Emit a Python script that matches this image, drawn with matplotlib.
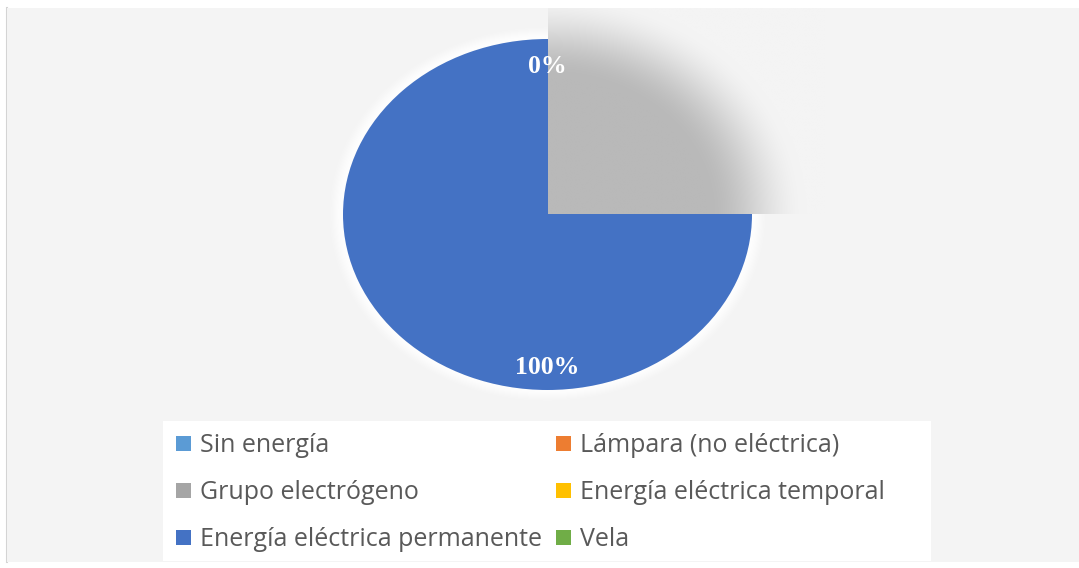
import numpy as np
import matplotlib
matplotlib.use("Agg")
import matplotlib.pyplot as plt
from matplotlib.patches import Rectangle
from matplotlib.lines import Line2D
from matplotlib.font_manager import FontProperties
from matplotlib.colors import to_rgb

# --- data -------------------------------------------------------------
categories = [
    "Sin energía",
    "Lámpara (no eléctrica)",
    "Grupo electrógeno",
    "Energía eléctrica temporal",
    "Energía eléctrica permanente",
    "Vela",
]
shares = [0, 0, 0, 0, 100, 0]
colors = ["#5B9BD5", "#ED7D31", "#A5A5A5", "#FFC000", "#4472C4", "#70AD47"]

# --- figure / canvas ----------------------------------------------------
W, H = 1079, 568
fig = plt.figure(figsize=(W / 100, H / 100), dpi=100, facecolor="white")

panel_bg = "#f4f4f4"
panel_top = 8
fig.patches.append(Rectangle((7 / W, (H - 562) / H), (W - 7) / W, (562 - panel_top) / H,
                             transform=fig.transFigure, facecolor=panel_bg,
                             edgecolor="none", zorder=-2))
fig.lines.append(Line2D([6.5 / W, 6.5 / W], [(H - 562) / H, (H - panel_top) / H],
                        transform=fig.transFigure, color="#d4d4d4", lw=1.5,
                        zorder=-2))
# white legend panel
fig.patches.append(Rectangle((163 / W, (H - 561) / H), (931 - 163) / W, (561 - 421) / H,
                             transform=fig.transFigure, facecolor="white",
                             edgecolor="none", zorder=-1))

# pie axes: unit circle mapped onto a 409 x 351 px ellipse
cx, cy, rx, ry = 547.5, 214.5, 204.5, 175.5
S = 1.35
ax = fig.add_axes([(cx - rx * S) / W, 1 - (cy + ry * S) / H,
                   2 * rx * S / W, 2 * ry * S / H])
ax.set_zorder(1)

wedges, texts, autotexts = ax.pie(
    shares, colors=colors, startangle=90, counterclock=False, radius=1,
    autopct="%.0f%%", pctdistance=0.86,
    wedgeprops=dict(linewidth=0),
    textprops=dict(color="white", fontsize=18.5, fontweight="bold",
                   family="Liberation Serif", va="center_baseline"),
)
ax.set_aspect("auto")
ax.axis("off")

# zero slices stack their labels on one spot: keep a single one
seen = set()
for t in autotexts:
    key = tuple(np.round(t.get_position(), 3))
    if key in seen:
        t.set_visible(False)
    seen.add(key)
    t.set_zorder(5)

# --- soft effects around the pie ----------------------------------------
n = 700
gx = np.linspace(-S, S, n)
X, Y = np.meshgrid(gx, gx)
R = np.hypot(X, Y)


def smoothstep(a, b, v):
    t = np.clip((v - a) / (b - a), 0, 1)
    return t * t * (3 - 2 * t)


# white halo just outside the rim
halo = np.zeros((n, n, 4))
halo[..., :3] = 1.0
halo[..., 3] = np.where(R >= 0.99, 0.9 * (1 - smoothstep(1.0, 1.08, R)), 0)
ax.imshow(halo, extent=(-S, S, -S, S), origin="lower", interpolation="bilinear",
          zorder=0.5, aspect="auto")

# grey shading over the upper-right quarter, fading outward
grey = np.array(to_rgb("#b9b9b9"))
bg = np.array(to_rgb(panel_bg))
a = 1 - smoothstep(0.78, 1.26, R)
shade = np.ones((n, n, 4))
shade[..., :3] = bg + (grey - bg) * a[..., None]
im = ax.imshow(shade, extent=(-S, S, -S, S), origin="lower",
               interpolation="bilinear", zorder=2, aspect="auto")
top_limit = (cy - panel_top) / ry
quarter = Rectangle((0, 0), S, top_limit, transform=ax.transData)
im.set_clip_path(quarter)
ax.set_xlim(-S, S)
ax.set_ylim(-S, S)

# --- legend ------------------------------------------------------------
order = [0, 2, 4, 1, 3, 5]
leg = ax.legend([wedges[i] for i in order], [categories[i] for i in order],
                loc="upper left", bbox_to_anchor=(176 / W, 1 - 433 / H),
                bbox_transform=fig.transFigure, ncol=2, frameon=False,
                prop=FontProperties(family="Open Sans", size=18),
                labelcolor="#595959", handlelength=0.6, handleheight=0.55,
                handletextpad=0.36, columnspacing=0.55, labelspacing=0.88,
                borderpad=0, borderaxespad=0)

fig.savefig("out.png", dpi=100, facecolor=fig.get_facecolor())
